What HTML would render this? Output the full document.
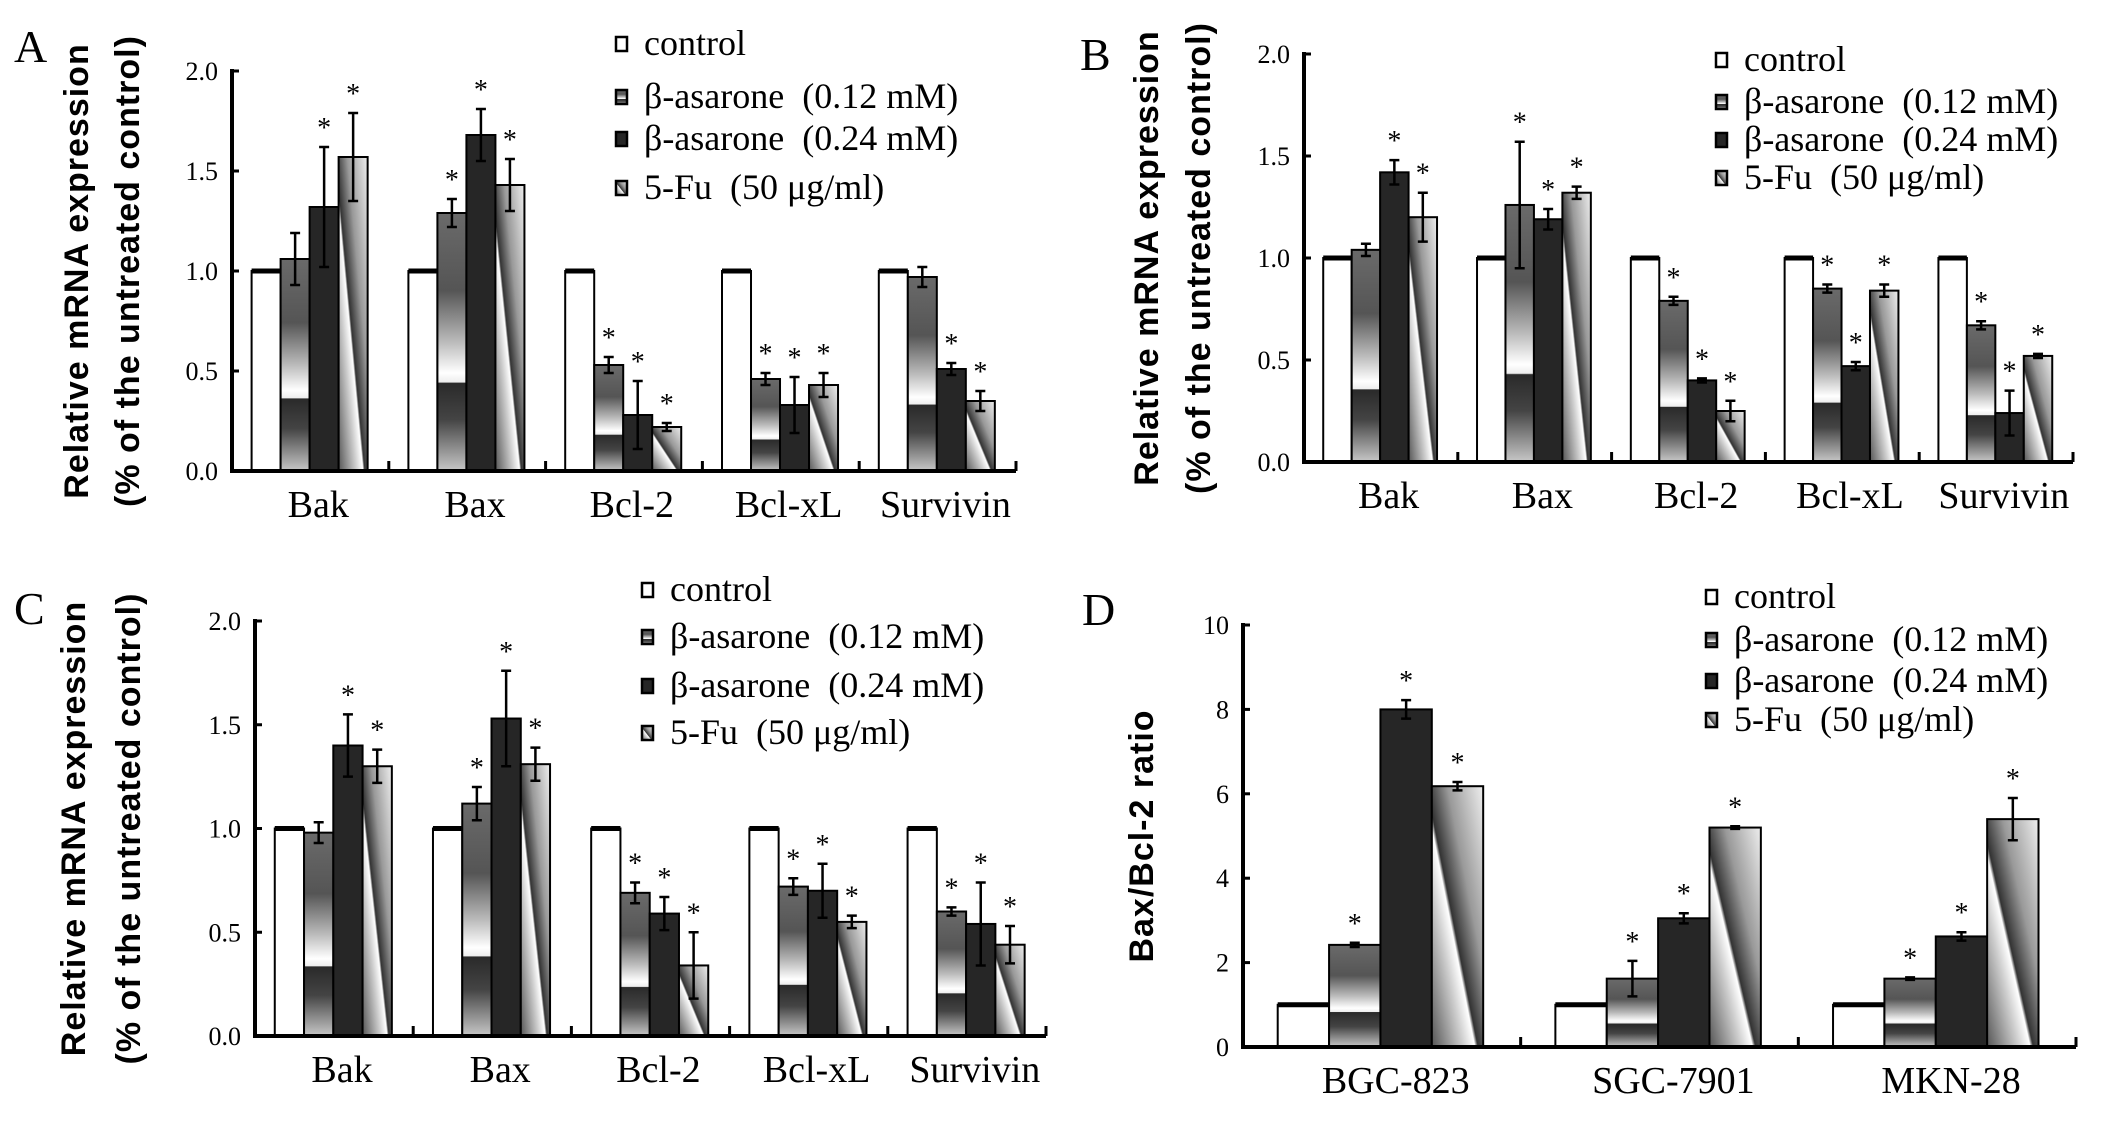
<!DOCTYPE html>
<html><head><meta charset="utf-8"><style>
html,body{margin:0;padding:0;background:#fff;}
svg{display:block;}
text{font-family:"Liberation Serif",serif;fill:#000;}
</style></head><body>
<svg id="fig" width="2102" height="1122" viewBox="0 0 2102 1122">
<defs>
<linearGradient id="g12" x1="0" y1="0" x2="0" y2="1">
<stop offset="0" stop-color="#6a6a6a"/><stop offset="0.3" stop-color="#555"/><stop offset="0.5" stop-color="#bbb"/><stop offset="0.62" stop-color="#fff"/><stop offset="0.655" stop-color="#eee"/><stop offset="0.66" stop-color="#2a2a2a"/><stop offset="0.8" stop-color="#444"/><stop offset="1" stop-color="#c8c8c8"/>
</linearGradient>
<linearGradient id="g5" x1="0" y1="1" x2="1" y2="0">
<stop offset="0" stop-color="#555"/><stop offset="0.3" stop-color="#ccc"/><stop offset="0.42" stop-color="#fff"/><stop offset="0.45" stop-color="#333"/><stop offset="0.65" stop-color="#999"/><stop offset="1" stop-color="#eee"/>
</linearGradient>
</defs>
</svg>
<script>
// Panel A
const catsA = ["Bak","Bax","Bcl-2","Bcl-xL","Survivin"];
const ctrlA = [1,1,1,1,1];
const low12A = [1.06,1.29,0.53,0.46,0.97];
const high24A = [1.32,1.68,0.28,0.33,0.51];
const fuA = [1.57,1.43,0.22,0.43,0.35];
const errLowA = [0.13,0.07,0.04,0.03,0.05];
const errHighA = [0.30,0.13,0.17,0.14,0.03];
const errFuA = [0.22,0.13,0.02,0.06,0.05];
const starLowA = [0,1,1,1,0];
const starHighA = [1,1,1,1,1];
const starFuA = [1,1,1,1,1];
// Panel B
const catsB = ["Bak","Bax","Bcl-2","Bcl-xL","Survivin"];
const ctrlB = [1,1,1,1,1];
const low12B = [1.04,1.26,0.79,0.85,0.67];
const high24B = [1.42,1.19,0.40,0.47,0.24];
const fuB = [1.20,1.32,0.25,0.84,0.52];
const errLowB = [0.03,0.31,0.02,0.02,0.02];
const errHighB = [0.06,0.05,0.01,0.02,0.11];
const errFuB = [0.12,0.03,0.05,0.03,0.01];
const starLowB = [0,1,1,1,1];
const starHighB = [1,1,1,1,1];
const starFuB = [1,1,1,1,1];
// Panel C
const catsC = ["Bak","Bax","Bcl-2","Bcl-xL","Survivin"];
const ctrlC = [1,1,1,1,1];
const low12C = [0.98,1.12,0.69,0.72,0.60];
const high24C = [1.40,1.53,0.59,0.70,0.54];
const fuC = [1.30,1.31,0.34,0.55,0.44];
const errLowC = [0.05,0.08,0.05,0.04,0.02];
const errHighC = [0.15,0.23,0.08,0.13,0.20];
const errFuC = [0.08,0.08,0.16,0.03,0.09];
const starLowC = [0,1,1,1,1];
const starHighC = [1,1,1,1,1];
const starFuC = [1,1,1,1,1];
// Panel D
const catsD = ["BGC-823","SGC-7901","MKN-28"];
const ctrlD = [1,1,1];
const low12D = [2.42,1.62,1.62];
const high24D = [8.0,3.05,2.62];
const fuD = [6.18,5.2,5.4];
const errLowD = [0.05,0.42,0.03];
const errHighD = [0.22,0.12,0.10];
const errFuD = [0.10,0.03,0.50];
const starLowD = [1,1,1];
const starHighD = [1,1,1];
const starFuD = [1,1,1];
const ticksABC = ["0.0","0.5","1.0","1.5","2.0"];
const ticksD = ["0","2","4","6","8","10"];

const NS="http://www.w3.org/2000/svg";
const svg=document.getElementById('fig');
function mk(tag,attrs,parent,txt){const e=document.createElementNS(NS,tag);for(const k in attrs)e.setAttribute(k,attrs[k]);if(txt!==undefined)e.textContent=txt;(parent||svg).appendChild(e);return e;}

function panel(p){
  const g=mk('g',{});
  
  
  const yv=v=>p.y0-(v-p.vmin)/(p.vmax-p.vmin)*(p.y0-p.y1);
  const n=p.cats.length, G=(p.x1-p.x0)/n, w=G*0.185, off=G*0.125;
  const lab=mk('text',{x:p.lx,y:p.ly,'font-size':46},g,p.id);
  
  
  const series=[[p.ctrl,null,null,'#fff'],[p.low,p.eL,p.sL,'url(#g12)'],[p.high,p.eH,p.sH,'#262626'],[p.fu,p.eF,p.sF,'url(#g5)']];
  for(let i=0;i<n;i++){
    series.forEach((s,j)=>{
      const v=s[0][i],x=p.x0+i*G+off+j*w,y=yv(v);
      const r=mk('rect',{x:x,y:y,width:w,height:p.y0-y,fill:s[3],stroke:'#000','stroke-width':2},g);
      
      
      if(j===0) mk('line',{x1:x,x2:x+w,y1:y,y2:y,stroke:'#000','stroke-width':5},g);
      if(s[1]){
        const e=s[1][i],cx=x+w/2,t=yv(v+e),b=yv(v-e);
        const eb=mk('path',{d:`M${cx},${t}V${b}M${cx-5},${t}H${cx+5}M${cx-5},${b}H${cx+5}`,stroke:'#000','stroke-width':2.5,fill:'none'},g);
        
        
        if(s[2][i]){
          const st=mk('text',{x:cx,y:t-10,'font-size':28,'text-anchor':'middle'},g,'*');
          
          
        }
      }
    });
    const cl=mk('text',{x:p.x0+i*G+G*0.55,y:p.y0+46,'font-size':38,'text-anchor':'middle'},g,p.cats[i]);
    
    
    if(i>0) mk('line',{x1:p.x0+i*G,x2:p.x0+i*G,y1:p.y0,y2:p.y0-10,stroke:'#000','stroke-width':3},g);
  }
  mk('line',{x1:p.x1,x2:p.x1,y1:p.y0,y2:p.y0-10,stroke:'#000','stroke-width':3},g);
  p.ticks.forEach((t,k)=>{
    const y=yv(p.vmin+k*(p.vmax-p.vmin)/(p.ticks.length-1));
    mk('line',{x1:p.x0,x2:p.x0+7,y1:y,y2:y,stroke:'#000','stroke-width':3},g);
    const tl=mk('text',{x:p.x0-14,y:y+9,'font-size':26,'text-anchor':'end'},g,t);
    
    
  });
  const ya=mk('line',{x1:p.x0,x2:p.x0,y1:p.y1-2,y2:p.y0+2,stroke:'#000','stroke-width':4},g);
  
  
  const xa=mk('line',{x1:p.x0-2,x2:p.x1,y1:p.y0,y2:p.y0,stroke:'#000','stroke-width':4},g);
  
  
  const cy=(p.y0+p.y1)/2;
  p.ytitle.forEach((t,k)=>{
    const yt=mk('text',{x:p.tx[k],y:cy,'font-size':p.tfs,'font-weight':'bold','text-anchor':'middle',transform:`rotate(-90 ${p.tx[k]} ${cy})`,style:'font-family:"Liberation Sans",sans-serif;letter-spacing:1px'},g,t);
    
    
  });
  const names=['control','β-asarone  (0.12 mM)','β-asarone  (0.24 mM)','5-Fu  (50 μg/ml)'];
  const fills=['#fff','url(#g12)','#262626','url(#g5)'];
  names.forEach((nm,k)=>{
    const y=p.legY[k];
    mk('rect',{x:p.legX,y:y-7,width:11,height:14,fill:fills[k],stroke:'#000','stroke-width':2.5},g);
    const lt=mk('text',{x:p.legX+28,y:y+11,'font-size':36,style:'white-space:pre'},g,nm);
    
    
  });
}
panel({id:'A',cats:catsA,ctrl:ctrlA,low:low12A,high:high24A,fu:fuA,eL:errLowA,eH:errHighA,eF:errFuA,sL:starLowA,sH:starHighA,sF:starFuA,
 x0:232,x1:1016,y0:471,y1:71,vmin:0,vmax:2,ticks:ticksABC,lx:14,ly:62,tx:[88,139],tfs:34,ytitle:['Relative mRNA expression','(% of the untreated control)'],legX:616,legY:[44,97,139,188]});
panel({id:'B',cats:catsB,ctrl:ctrlB,low:low12B,high:high24B,fu:fuB,eL:errLowB,eH:errHighB,eF:errFuB,sL:starLowB,sH:starHighB,sF:starFuB,
 x0:1304,x1:2073,y0:462,y1:54,vmin:0,vmax:2,ticks:ticksABC,lx:1080,ly:70,tx:[1158,1210],tfs:34,ytitle:['Relative mRNA expression','(% of the untreated control)'],legX:1716,legY:[60,102,140,178]});
panel({id:'C',cats:catsC,ctrl:ctrlC,low:low12C,high:high24C,fu:fuC,eL:errLowC,eH:errHighC,eF:errFuC,sL:starLowC,sH:starHighC,sF:starFuC,
 x0:255,x1:1046,y0:1036,y1:621,vmin:0,vmax:2,ticks:ticksABC,lx:14,ly:624,tx:[85,140],tfs:34,ytitle:['Relative mRNA expression','(% of the untreated control)'],legX:642,legY:[590,637,686,733]});
panel({id:'D',cats:catsD,ctrl:ctrlD,low:low12D,high:high24D,fu:fuD,eL:errLowD,eH:errHighD,eF:errFuD,sL:starLowD,sH:starHighD,sF:starFuD,
 x0:1243,x1:2076,y0:1047,y1:625,vmin:0,vmax:10,ticks:ticksD,lx:1082,ly:625,tx:[1153],tfs:34,ytitle:['Bax/Bcl-2 ratio'],legX:1706,legY:[597,640,681,720]});
</script>
</body></html>
